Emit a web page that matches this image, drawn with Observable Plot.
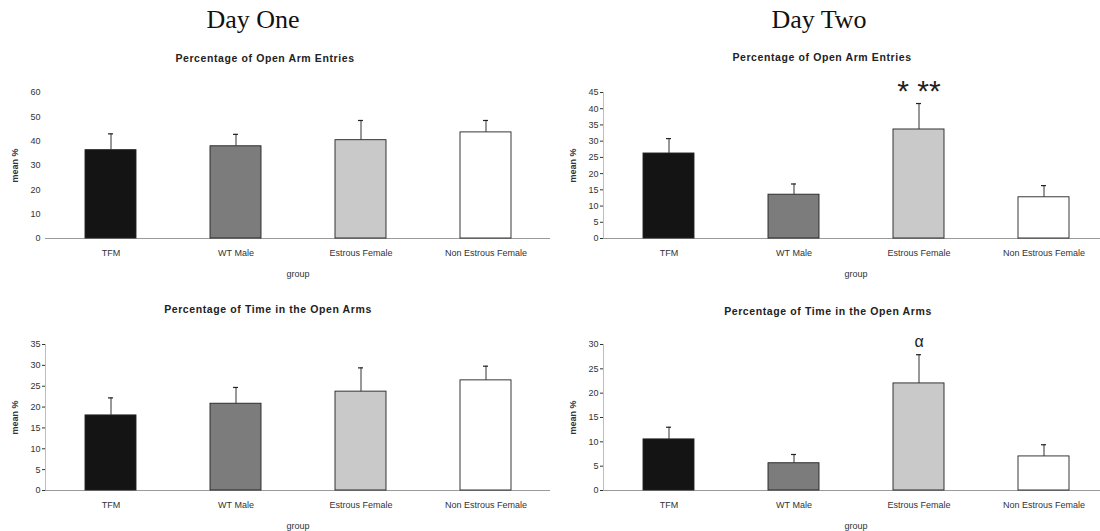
<!DOCTYPE html>
<html>
<head>
<meta charset="utf-8">
<script src="https://cdn.jsdelivr.net/npm/d3@7"></script>
<script src="https://cdn.jsdelivr.net/npm/@observablehq/plot@0.6"></script>
<style>
  body { margin: 0; background: #fff; }
  #fig { position: relative; width: 1100px; height: 531px; overflow: hidden; font-family: "Liberation Sans", Arial, sans-serif; }
  .panel { position: absolute; width: 550px; }
  .panel svg { max-width: none !important; }
  .day { position: absolute; width: 300px; text-align: center; font-family: "Liberation Serif", "Times New Roman", serif; font-size: 26px; color: #111; line-height: 26px; }
  .ptitle { position: absolute; width: 400px; text-align: center; font-size: 10.5px; font-weight: bold; color: #222; letter-spacing: 0.6px; line-height: 12px; }
  g[aria-label="y-axis label"] text, g[aria-label="y-axis label"] { font-weight: bold; }
</style>
</head>
<body>
<div id="fig"></div>
<script>
// ---- data ----
const groups = ["TFM", "WT Male", "Estrous Female", "Non Estrous Female"];

const day1EntriesMean = [36.3, 37.9, 40.4, 43.6];
const day1EntriesSem  = [6.7, 4.9, 8.1, 4.9];
const day1EntriesTicks = [0, 10, 20, 30, 40, 50, 60];

const day2EntriesMean = [26.2, 13.5, 33.6, 12.7];
const day2EntriesSem  = [4.6, 3.3, 8.0, 3.6];
const day2EntriesTicks = [0, 5, 10, 15, 20, 25, 30, 35, 40, 45];

const day1TimeMean = [18.0, 20.8, 23.7, 26.4];
const day1TimeSem  = [4.2, 3.9, 5.7, 3.4];
const day1TimeTicks = [0, 5, 10, 15, 20, 25, 30, 35];

const day2TimeMean = [10.5, 5.6, 22.0, 7.0];
const day2TimeSem  = [2.5, 1.8, 5.9, 2.4];
const day2TimeTicks = [0, 5, 10, 15, 20, 25, 30];

const day2EntriesNotes = [{group: "Estrous Female", y: 45.3, label: "* **"}];
const day2TimeNotes = [{group: "Estrous Female", y: 30.6, label: "α"}];

const dayTitles = ["Day One", "Day Two"];
const panelTitles = ["Percentage of Open Arm Entries", "Percentage of Time in the Open Arms"];

// ---- helpers ----
const barFills = ["#141414", "#7c7c7c", "#c9c9c9", "#ffffff"];

function rows(means, sems) {
  return groups.map((g, i) => ({group: g, mean: means[i], hi: means[i] + sems[i]}));
}

function panel({means, sems, ticks, notes, noteSize, marginTop, leftLine}) {
  const data = rows(means, sems);
  const marks = [
    Plot.axisY({ticks, tickSize: leftLine ? 3 : 0, tickPadding: leftLine ? 2 : 5, fontSize: 9, label: "mean %", labelAnchor: "center", labelOffset: 34, labelArrow: false}),
    Plot.axisX({tickSize: 0, tickPadding: 11, fontSize: 9, label: "group", labelAnchor: "center", labelOffset: 38})
  ];
  if (leftLine) marks.push(Plot.frame({anchor: "left", stroke: "#bdbdbd"}));
  marks.push(
    Plot.ruleY([0], {stroke: "#9a9a9a"}),
    Plot.barY(data, {x: "group", y: "mean", fill: "group", stroke: "#222", strokeWidth: 0.9}),
    Plot.ruleX(data, {x: "group", y1: "mean", y2: "hi", stroke: "#333", strokeWidth: 1}),
    Plot.tickY(data, {x: "group", y: "hi", stroke: "#222", strokeWidth: 1.2, insetLeft: 23, insetRight: 23})
  );
  if (notes) marks.push(Plot.text(notes, {x: "group", y: "y", text: "label", fontSize: noteSize, fill: "#222"}));
  return Plot.plot({
    width: 550,
    height: 146 + marginTop + 47,
    marginLeft: 45,
    marginRight: 0,
    marginTop,
    marginBottom: 47,
    x: {domain: groups, paddingInner: 0.592, paddingOuter: 0.316, axis: null},
    y: {domain: [ticks[0], ticks[ticks.length - 1]], axis: null},
    color: {domain: groups, range: barFills},
    style: {fontFamily: "'Liberation Sans', Arial, sans-serif", fontSize: "9px", color: "#333", background: "transparent", maxWidth: "none"},
    marks
  });
}

const fig = document.getElementById("fig");
function place(node, left, top) {
  const d = document.createElement("div");
  d.className = "panel";
  d.style.left = left + "px";
  d.style.top = top + "px";
  d.appendChild(node);
  fig.appendChild(d);
}
function label(cls, text, cx, cy, w) {
  const d = document.createElement("div");
  d.className = cls;
  d.textContent = text;
  d.style.left = (cx - w / 2) + "px";
  d.style.top = cy + "px";
  fig.appendChild(d);
}

place(panel({means: day1EntriesMean, sems: day1EntriesSem, ticks: day1EntriesTicks, marginTop: 22, leftLine: false}), 0, 70);
place(panel({means: day2EntriesMean, sems: day2EntriesSem, ticks: day2EntriesTicks, notes: day2EntriesNotes, noteSize: 30, marginTop: 22, leftLine: true}), 558, 70);
place(panel({means: day1TimeMean, sems: day1TimeSem, ticks: day1TimeTicks, marginTop: 23, leftLine: true}), 0, 321);
place(panel({means: day2TimeMean, sems: day2TimeSem, ticks: day2TimeTicks, notes: day2TimeNotes, noteSize: 16, marginTop: 23, leftLine: true}), 558, 321);

label("day", dayTitles[0], 253, 7, 300);
label("day", dayTitles[1], 819, 7, 300);
label("ptitle", panelTitles[0], 265, 52, 400);
label("ptitle", panelTitles[0], 822, 51, 400);
label("ptitle", panelTitles[1], 268, 303, 400);
label("ptitle", panelTitles[1], 828, 305, 400);
</script>
</body>
</html>
